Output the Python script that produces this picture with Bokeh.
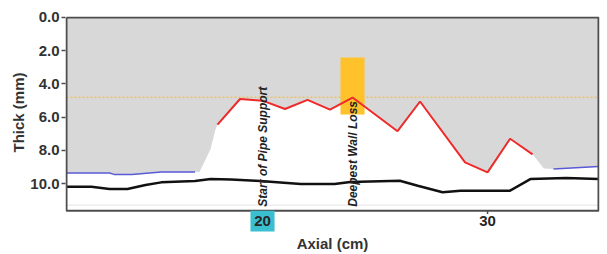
import math
from bokeh.plotting import figure
from bokeh.models import Range1d, FixedTicker, PrintfTickFormatter, Title
from bokeh.core.properties import value
from bokeh.embed import file_html
from bokeh.resources import INLINE

# ---- data ----
x_ticks = [20, 30]
x_tick_labels = ["20", "30"]
highlight_tick = [20]
y_ticks = [0, 2, 4, 6, 8, 10]
x_min, x_max = 11.29, 34.93
y_top, y_bottom = 0.0, 11.64

black_x = [11.3, 12.4, 13.2, 14.0, 14.8, 15.5, 17.0, 17.7, 18.6, 19.9, 21.7, 23.2,
           23.9, 26.1, 26.9, 28.0, 28.8, 31.0, 31.9, 33.5, 34.93]
black_y = [10.19, 10.2, 10.33, 10.33, 10.09, 9.93, 9.85, 9.73, 9.76, 9.85, 10.03, 10.03,
           9.91, 9.83, 10.13, 10.53, 10.43, 10.43, 9.73, 9.67, 9.73]

blue_left_x = [11.29, 13.2, 13.4, 14.2, 15.5, 17.0]
blue_left_y = [9.37, 9.37, 9.45, 9.45, 9.3, 9.3]
blue_right_x = [32.93, 34.93]
blue_right_y = [9.13, 8.97]

red_x = [18, 19, 20, 21, 22, 23, 24, 26, 27, 29, 30, 31, 32]
red_y = [6.45, 4.91, 5.01, 5.51, 4.96, 5.55, 4.82, 6.85, 5.06, 8.73, 9.33, 7.30, 8.24]

gap_left_x = [17.2, 17.69, 17.91]
gap_left_y = [9.3, 7.94, 6.75]
gap_right_x = [32.5]
gap_right_y = [9.1]

floor_level = 11.3
loss_level = 4.8

deepest_x = [24.0]
deepest_w = [1.07]
deepest_top = [2.41]
deepest_bottom = [5.85]

notes = ["Start of Pipe Support", "Deepest Wall Loss"]
notes_x = [20, 24]
notes_y = [11.4, 11.4]

# ---- figure ----
# frame extends below the plot box so the x tick labels (one highlighted) can be drawn
x_pad = 1 / 22.5
y_pad = 1 / 16.75
y_ext = 13.07
p = figure(width=607, height=254, output_backend="svg", toolbar_location=None,
           x_range=Range1d(x_min - x_pad, x_max + x_pad),
           y_range=Range1d(y_ext, y_top - y_pad),
           min_border_left=65, min_border_right=8, min_border_top=16, min_border_bottom=18)
p.background_fill_color = "white"
p.border_fill_color = "white"
p.outline_line_color = None
p.xgrid.visible = False
p.ygrid.visible = False

# grey region above the measured profile
edge_x = blue_left_x + gap_left_x + red_x + gap_right_x + blue_right_x
edge_y = blue_left_y + gap_left_y + red_y + gap_right_y + blue_right_y
p.varea(x=edge_x, y1=[y_top] * len(edge_x), y2=edge_y, fill_color="#d8d8d8")

p.line([x_min, x_max], [floor_level, floor_level], line_color="#e4e4e4", line_width=1)

p.line([x_min, x_max], [loss_level, loss_level], line_color="#f3b43c",
       line_width=1, line_dash="2 2")

p.quad(left=[deepest_x[0] - deepest_w[0] / 2], right=[deepest_x[0] + deepest_w[0] / 2],
       top=deepest_top, bottom=deepest_bottom, fill_color="#ffc22a", line_color=None)

p.line(blue_left_x, blue_left_y, line_color="#5a5ad6", line_width=1.5)
p.line(blue_right_x, blue_right_y, line_color="#5a5ad6", line_width=1.5)
p.line(red_x, red_y, line_color="#ee2a2a", line_width=2)
p.line(black_x, black_y, line_color="#111111", line_width=2.5)

p.text(x=notes_x, y=notes_y, text=notes, angle=math.pi / 2,
       text_align="left", text_baseline="middle",
       text_font=value("Liberation Sans"), text_font_style="bold italic",
       text_font_size="12px", text_color="#222222")

# plot box
p.line([x_min, x_max, x_max, x_min, x_min], [y_top, y_top, y_bottom, y_bottom, y_top],
       line_color="#4d4d4d", line_width=2)

# x ticks, highlighted tick label and tick labels
p.segment(x0=x_ticks, y0=[y_bottom] * len(x_ticks), x1=x_ticks,
          y1=[y_bottom + 0.2] * len(x_ticks), line_color="#4d4d4d", line_width=1.5)
p.rect(x=highlight_tick, y=[y_bottom + 0.63], width=1.07, height=1.25,
       fill_color="#3bbfd0", line_color=None)
p.text(x=x_ticks, y=[y_bottom + 0.62] * len(x_ticks), text=x_tick_labels,
       text_align="center", text_baseline="middle",
       text_font=value("Liberation Sans"), text_font_style="bold",
       text_font_size="15px", text_color="#262626")

# axes
p.xaxis.ticker = FixedTicker(ticks=[])
p.xaxis.axis_line_color = None
p.xaxis.major_tick_line_color = None
p.xaxis.minor_tick_line_color = None
p.xaxis.axis_label = "Axial (cm)"
p.xaxis.axis_label_standoff = 0
p.xaxis.axis_label_text_font = "Liberation Sans"
p.xaxis.axis_label_text_font_style = "bold"
p.xaxis.axis_label_text_font_size = "15px"
p.xaxis.axis_label_text_color = "#333333"

ya = p.yaxis[0]
ya.ticker = FixedTicker(ticks=y_ticks)
ya.formatter = PrintfTickFormatter(format="%.1f")
ya.axis_line_color = None
ya.major_tick_line_color = "#4d4d4d"
ya.major_tick_line_width = 1.5
ya.major_tick_in = 0
ya.major_tick_out = 4
ya.minor_tick_line_color = None
ya.major_label_standoff = 2
ya.major_label_text_font = "Liberation Sans"
ya.major_label_text_font_style = "bold"
ya.major_label_text_font_size = "15px"
ya.major_label_text_color = "#333333"

p.add_layout(Title(text="Thick (mm)", align="right", offset=56, standoff=2,
                   text_font="Liberation Sans", text_font_style="bold",
                   text_font_size="15px", text_color="#333333"), "left")

open("out.html", "w").write(file_html(p, INLINE))
